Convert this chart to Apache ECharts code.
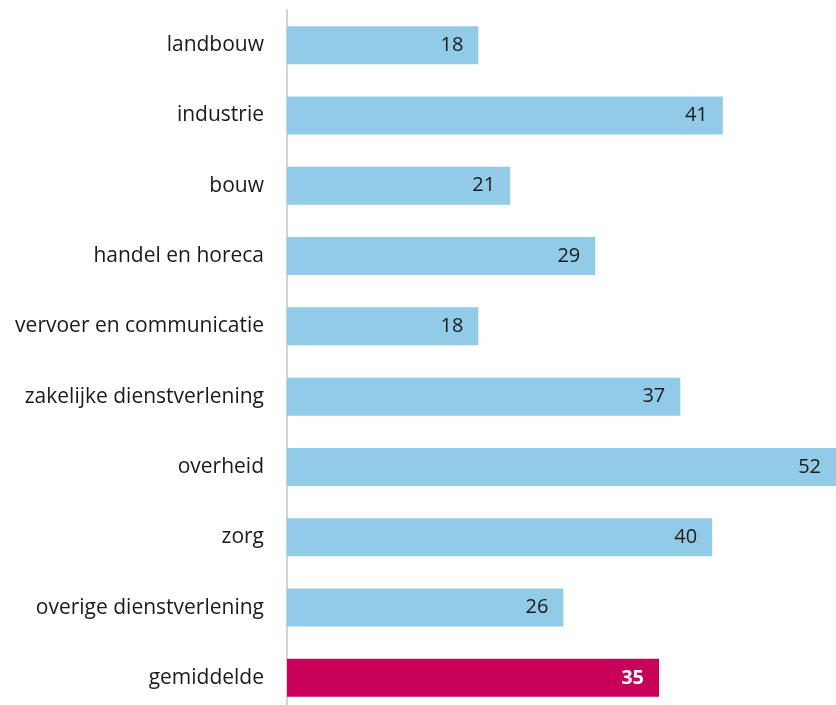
<!DOCTYPE html>
<html>
<head>
<meta charset="utf-8">
<script src="https://cdn.jsdelivr.net/npm/echarts@6/dist/echarts.min.js"></script>
<style>html,body{margin:0;padding:0;background:#fff;overflow:hidden}#c{width:836px;height:720px}</style>
</head>
<body>
<div id="c"></div>
<script>
const categories = ['landbouw','industrie','bouw','handel en horeca','vervoer en communicatie','zakelijke dienstverlening','overheid','zorg','overige dienstverlening','gemiddelde'];
const values = [18, 41, 21, 29, 18, 37, 52, 40, 26, 35];
const highlightCategory = 'gemiddelde';

const chart = echarts.init(document.getElementById('c'), null, {renderer: 'canvas'});
const FONT = '"Open Sans", sans-serif';
chart.setOption({
  animation: false,
  grid: {left: 287, right: 0, top: 10, height: 703},
  xAxis: {type: 'value', min: 0, max: 51.65, show: false},
  yAxis: {
    type: 'category', data: categories, inverse: true,
    axisLine: {show: true, lineStyle: {color: '#d4d4d4', width: 2}},
    axisTick: {show: false},
    axisLabel: {color: '#1a1a1a', fontSize: 21, fontFamily: FONT, margin: 23}
  },
  series: [{
    type: 'bar', barWidth: 38,
    data: values.map((v, i) => {
      const hi = categories[i] === highlightCategory;
      return {
        value: v,
        itemStyle: {color: hi ? '#c8005a' : '#91cbe7'},
        label: hi ? {color: '#ffffff', fontWeight: 'bold'} : {}
      };
    }),
    label: {show: true, position: 'insideRight', distance: 15, color: '#1a1a1a', fontSize: 20, fontFamily: FONT}
  }]
});
</script>
</body>
</html>
